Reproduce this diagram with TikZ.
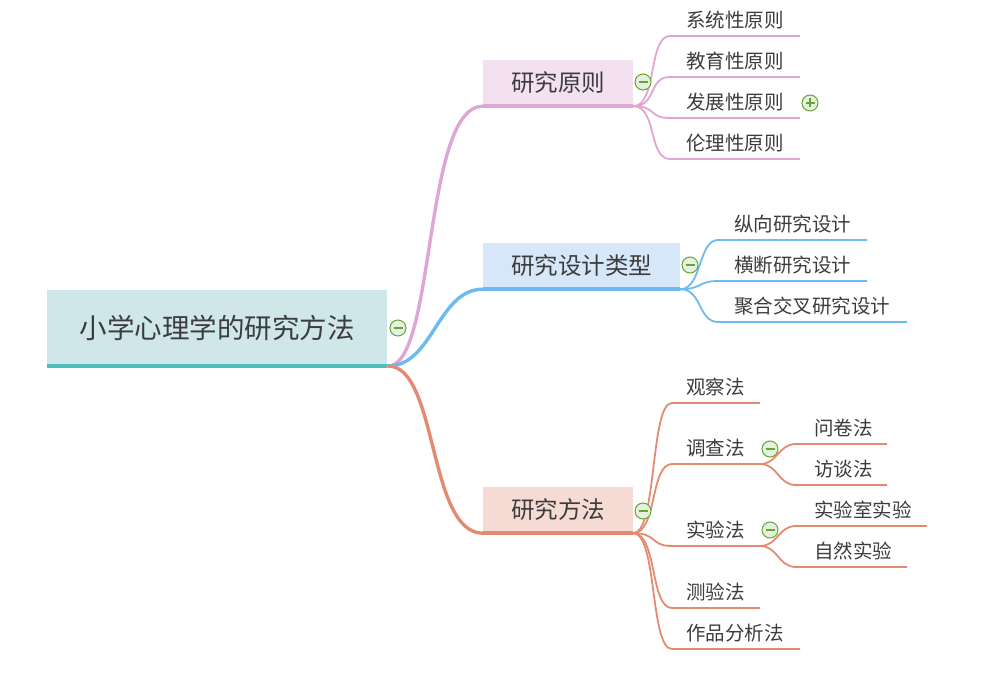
\documentclass[tikz,border=0pt]{standalone}
\usepackage{fontspec}
\newfontfamily\cjk{Noto Sans CJK SC}
\definecolor{rootfill}{HTML}{CFE7E8}
\definecolor{rootbar}{HTML}{4BBDBD}
\definecolor{pinkfill}{HTML}{F4E1F0}
\definecolor{pinkline}{HTML}{E0A6D3}
\definecolor{bluefill}{HTML}{D5E7F8}
\definecolor{blueline}{HTML}{6CBAEE}
\definecolor{orfill}{HTML}{F6DBD4}
\definecolor{orline}{HTML}{E48A71}
\definecolor{txt}{HTML}{3C3C3C}
\definecolor{icongreen}{HTML}{62A832}
\definecolor{iconfill}{HTML}{E6EFE0}
\begin{document}
\begin{tikzpicture}[x=1pt,y=-1pt,
  rootbox/.style={fill=rootfill,minimum width=340pt,minimum height=76pt,inner sep=0pt,text=txt,font=\cjk\fontsize{27.5}{32}\selectfont},
  branchbox/.style={minimum height=46pt,inner sep=0pt,text=txt,font=\cjk\fontsize{23.5}{28}\selectfont},
  leaf/.style={anchor=west,inner sep=0pt,text=txt,font=\cjk\fontsize{19.5}{23}\selectfont},
  minusicon/.style={circle,draw=icongreen,line width=1pt,fill=iconfill,minimum size=16pt,inner sep=0pt,
    path picture={\draw[icongreen,line width=1.2pt] ([xshift=-4.5pt]path picture bounding box.center) -- ([xshift=4.5pt]path picture bounding box.center);}},
  plusicon/.style={circle,draw=icongreen,line width=1pt,fill=iconfill,minimum size=16pt,inner sep=0pt,
    path picture={\draw[icongreen,line width=1.2pt] ([xshift=-4.5pt]path picture bounding box.center) -- ([xshift=4.5pt]path picture bounding box.center)
      ([yshift=-4.5pt]path picture bounding box.center) -- ([yshift=4.5pt]path picture bounding box.center);}},
  pinkl/.style={draw=pinkline,line width=1.8pt},
  bluel/.style={draw=blueline,line width=1.8pt},
  orl/.style={draw=orline,line width=1.8pt},
  main/.style={line width=3.4pt,line cap=round}
]
\useasboundingbox (0,0) rectangle (995,676);

% root
\node[rootbox] (root) at (217,328) {小学心理学的研究方法};
\draw[rootbar,line width=4.5pt] (root.south west) -- (root.south east);
\coordinate (rc) at (388,366);

% branches
\node[branchbox,fill=pinkfill,minimum width=150pt] (b1) at (558,83) {研究原则};
\node[branchbox,fill=bluefill,minimum width=197pt] (b2) at (581.5,266) {研究设计类型};
\node[branchbox,fill=orfill,minimum width=150pt] (b3) at (558,510) {研究方法};

% main connectors
\draw[pinkline,main] (rc) .. controls +(48,0) and +(-60,0) .. (b1.south west);
\draw[blueline,main] (rc) .. controls +(45,0) and +(-45,0) .. (b2.south west);
\draw[orline,main] (rc) .. controls +(50,0) and +(-55,0) .. (b3.south west);
\draw[pinkline,line width=3.5pt] (b1.south west) -- (b1.south east);
\draw[blueline,line width=3.5pt] (b2.south west) -- (b2.south east);
\draw[orline,line width=3.5pt] (b3.south west) -- (b3.south east);

% branch 1 leaves
\foreach \n/\y/\t in {p1/36/系统性原则, p2/77/教育性原则, p3/118/发展性原则, p4/159/伦理性原则}{
  \node[leaf] (\n) at (686,\y-16) {\t};
  \coordinate (\n s) at (670,\y);
  \coordinate (\n e) at (800,\y);
  \draw[pinkl] (b1.south east) .. controls +(24,0) and +(-22,0) .. (\n s) -- (\n e);
}

% branch 2 leaves
\foreach \n/\y/\x/\t in {q1/240/867/纵向研究设计, q2/281/867/横断研究设计, q3/322/907/聚合交叉研究设计}{
  \node[leaf] (\n) at (734,\y-16) {\t};
  \coordinate (\n s) at (718,\y);
  \coordinate (\n e) at (\x,\y);
  \draw[bluel] (b2.south east) .. controls +(22,0) and +(-20,0) .. (\n s) -- (\n e);
}

% branch 3 leaves
\foreach \n/\y/\x/\t in {r1/403/760/观察法, r2/464/760/调查法, r3/546/760/实验法, r4/608/760/测验法, r5/649/800/作品分析法}{
  \node[leaf] (\n) at (686,\y-16) {\t};
  \coordinate (\n s) at (672,\y);
  \coordinate (\n e) at (\x,\y);
  \draw[orl] (b3.south east) .. controls +(24,0) and +(-22,0) .. (\n s) -- (\n e);
}

% sub leaves
\foreach \n/\p/\y/\x/\t in {s1/r2/444/887/问卷法, s2/r2/485/887/访谈法, s3/r3/526/927/实验室实验, s4/r3/567/907/自然实验}{
  \node[leaf] (\n) at (814,\y-16) {\t};
  \coordinate (\n s) at (796,\y);
  \coordinate (\n e) at (\x,\y);
  \draw[orl] (\p e) .. controls +(18,0) and +(-18,0) .. (\n s) -- (\n e);
}

% icons on top
\node[minusicon] (rootm) at (398,328) {};
\node[minusicon] (b1m) at (643,82) {};
\node[minusicon] (b2m) at (690,265) {};
\node[minusicon] (b3m) at (643,511) {};
\node[plusicon] (p3p) at (810,103) {};
\node[minusicon] (r2m) at (770,449) {};
\node[minusicon] (r3m) at (770,530) {};
\end{tikzpicture}
\end{document}
